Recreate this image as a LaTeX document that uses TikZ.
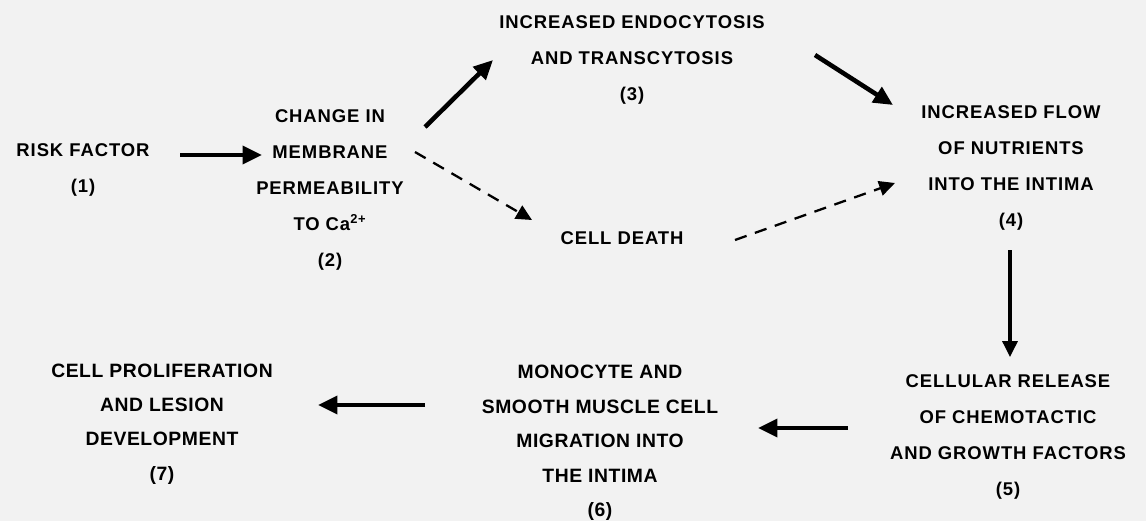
\documentclass[tikz,border=0pt]{standalone}
\usepackage{fontspec}
\setmainfont{Liberation Sans}[LetterSpace=5]
\newfontfamily\lowfont{Liberation Sans}[LetterSpace=3]
\usetikzlibrary{arrows.meta}
\begin{document}
\begin{tikzpicture}[x=0.02cm,y=-0.02cm,
  txt/.style={align=center,font=\bfseries\fontsize{10.5}{20.4}\selectfont},
  low/.style={align=center,font=\lowfont\bfseries\fontsize{11}{19.6}\selectfont},
  bigarrow/.style={line width=2.6pt,-{Triangle[length=11pt,width=10pt]}},
  dasharrow/.style={line width=1.3pt,dash pattern=on 7pt off 5pt,-{Triangle[length=9pt,width=8.5pt]}},
  longarrow/.style={line width=1.8pt,-{Triangle[length=9pt,width=8.5pt]}}]
  \useasboundingbox[fill=black!5] (0,0) rectangle (1146,521);
  % top row
  \node[txt] (risk) at (83,170) {RISK FACTOR\\(1)};
  \node[txt] (change) at (330,190) {CHANGE IN\\MEMBRANE\\PERMEABILITY\\TO Ca\textsuperscript{2+}\\(2)};
  \node[txt] (endo) at (632,60) {INCREASED ENDOCYTOSIS\\AND TRANSCYTOSIS\\(3)};
  \node[txt] (death) at (622,238) {CELL DEATH};
  \node[txt] (flow) at (1011,168) {INCREASED FLOW\\OF NUTRIENTS\\INTO THE INTIMA\\(4)};
  % bottom row
  \node[txt] (release) at (1008,437) {CELLULAR RELEASE\\OF CHEMOTACTIC\\AND GROWTH FACTORS\\(5)};
  \node[low] (migr) at (600,443) {MONOCYTE AND\\SMOOTH MUSCLE CELL\\MIGRATION INTO\\THE INTIMA\\(6)};
  \node[low] (prolif) at (162,424) {CELL PROLIFERATION\\AND LESION\\DEVELOPMENT\\(7)};
  % connectors
  \draw[bigarrow] ([shift={(97,-15)}]risk.center) -- ([shift={(-68,-35)}]change.center);
  \draw[bigarrow] ([shift={(95,-63)}]change.center) -- ([shift={(-139,0)}]endo.center);
  \draw[bigarrow] ([shift={(183,-5)}]endo.center) -- ([shift={(-118,-63)}]flow.center);
  \draw[dasharrow] ([shift={(85,-38)}]change.center) -- ([shift={(-90,-18)}]death.center);
  \draw[dasharrow] ([shift={(113,2)}]death.center) -- ([shift={(-116,15)}]flow.center);
  \draw[longarrow] ([shift={(-1,82)}]flow.center) -- ([shift={(2,-80)}]release.center);
  \draw[bigarrow] ([shift={(-160,-9)}]release.center) -- ([shift={(158,-15)}]migr.center);
  \draw[bigarrow] ([shift={(-175,-38)}]migr.center) -- ([shift={(156,-19)}]prolif.center);
\end{tikzpicture}
\end{document}
